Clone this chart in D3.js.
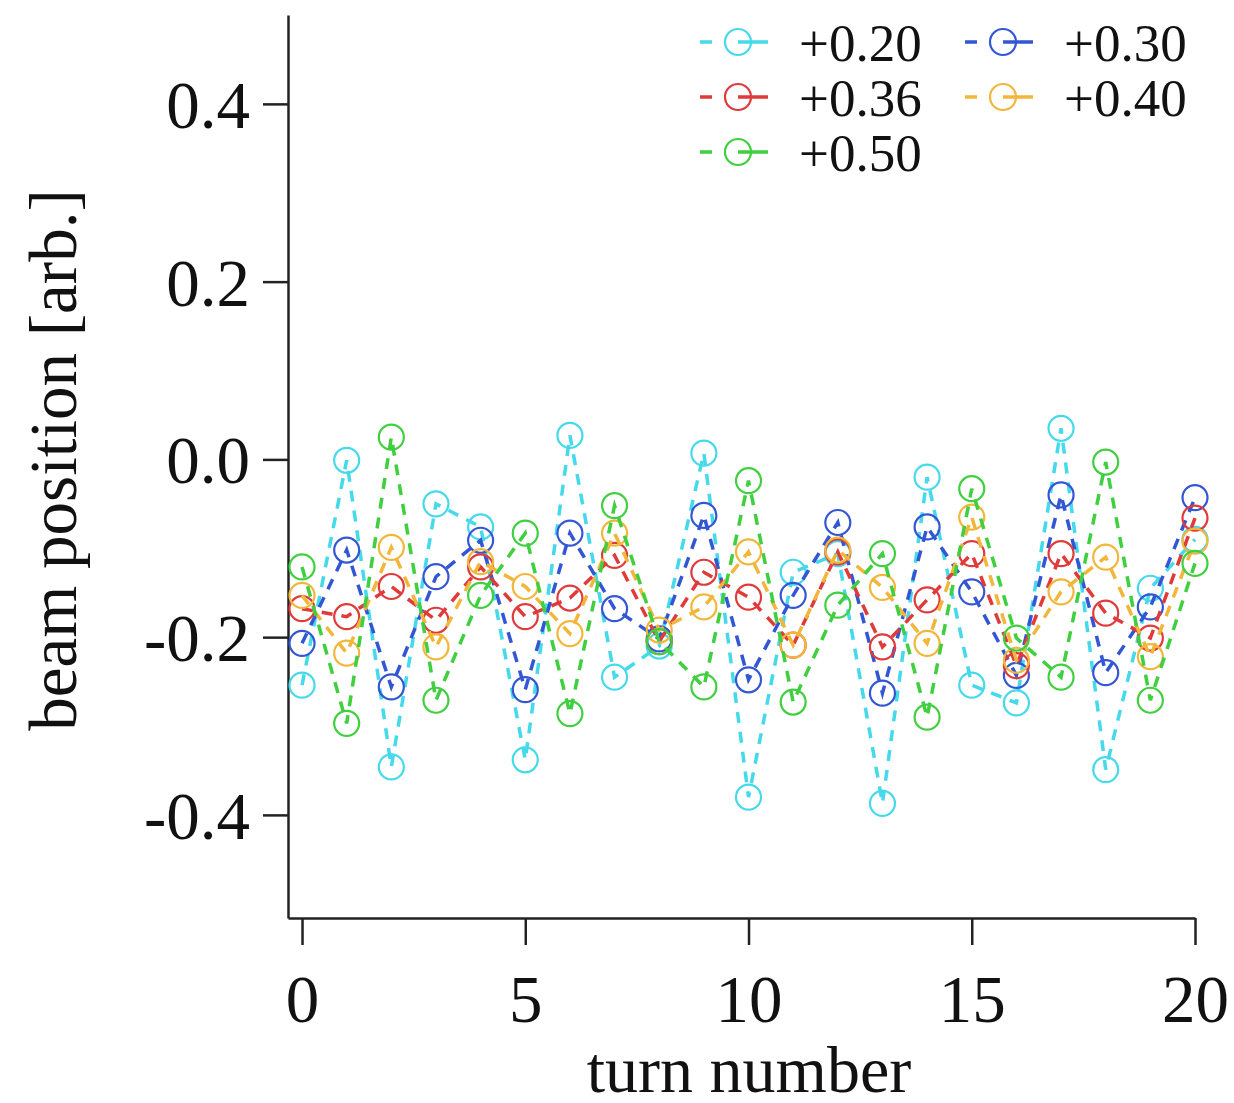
<!DOCTYPE html>
<html>
<head>
<meta charset="utf-8">
<script src="https://cdn.jsdelivr.net/npm/d3@7"></script>
<style>
  html, body { margin: 0; padding: 0; background: #fff; }
  svg { display: block; }
  text { font-family: "Liberation Serif", "Times New Roman", serif; fill: #111; }
</style>
</head>
<body>
<svg id="chart" width="1234" height="1103"></svg>
<script>
// ---- data ----
const turns = d3.range(0, 21);
const seriesNames = ["+0.20", "+0.30", "+0.36", "+0.40", "+0.50"];
const seriesColors = ["#45d9ec", "#3356d4", "#e03a3a", "#f2b63a", "#3fcf3f"];
const s020 = [-0.254, -0.001, -0.346, -0.050, -0.076, -0.338, 0.027, -0.245, -0.210, 0.007, -0.380, -0.127, -0.106, -0.387, -0.020, -0.254, -0.274, 0.035, -0.349, -0.145, -0.090];
const s030 = [-0.207, -0.102, -0.256, -0.132, -0.091, -0.259, -0.083, -0.168, -0.202, -0.063, -0.248, -0.153, -0.071, -0.263, -0.076, -0.149, -0.243, -0.040, -0.240, -0.166, -0.043];
const s036 = [-0.168, -0.177, -0.143, -0.181, -0.121, -0.177, -0.156, -0.108, -0.205, -0.127, -0.155, -0.209, -0.104, -0.211, -0.158, -0.106, -0.232, -0.106, -0.173, -0.201, -0.066];
const s040 = [-0.153, -0.218, -0.099, -0.211, -0.115, -0.143, -0.196, -0.083, -0.192, -0.166, -0.104, -0.209, -0.102, -0.144, -0.207, -0.065, -0.226, -0.149, -0.110, -0.222, -0.092];
const s050 = [-0.121, -0.297, 0.025, -0.271, -0.153, -0.083, -0.286, -0.052, -0.205, -0.256, -0.024, -0.273, -0.164, -0.106, -0.290, -0.033, -0.201, -0.245, -0.003, -0.271, -0.117];
const seriesValues = [s020, s030, s036, s040, s050];
const xTicks = [0, 5, 10, 15, 20];
const yTicks = [-0.4, -0.2, 0.0, 0.2, 0.4];

// ---- chart ----
const svg = d3.select("#chart");
const x = d3.scaleLinear().domain([-0.314, 20]).range([288, 1195]);
const y = d3.scaleLinear().domain([-0.516, 0.5]).range([918, 15]);

const yAxis = d3.axisLeft(y).tickValues(yTicks).tickFormat(d => d.toFixed(1))
  .tickSize(25).tickSizeOuter(0).tickPadding(13);
const xAxis = d3.axisBottom(x).tickValues(xTicks).tickFormat(d => String(d))
  .tickSize(27).tickSizeOuter(0).tickPadding(10);

const gy = svg.append("g").attr("transform", "translate(288,0)").call(yAxis);
const gx = svg.append("g").attr("transform", "translate(0,918)").call(xAxis);
[gx, gy].forEach(g => {
  g.selectAll("path, line").attr("stroke", "#222").attr("stroke-width", 2.5);
  g.selectAll("text").attr("font-size", 67).attr("fill", "#111")
    .style("font-family", "'Liberation Serif', 'Times New Roman', serif");
});
gy.selectAll("text").attr("dy", "0.35em");
gx.selectAll("text").attr("y", 104).attr("dy", 0);

// axis titles
svg.append("text").attr("x", 749).attr("y", 1092).attr("text-anchor", "middle")
  .attr("font-size", 66).text("turn number");
svg.append("text").attr("transform", "translate(76,460) rotate(-90)")
  .attr("text-anchor", "middle").attr("font-size", 67).text("beam position [arb.]");

// series
const line = d3.line().x((d, i) => x(turns[i])).y(d => y(d));
seriesValues.forEach((vals, k) => {
  const g = svg.append("g");
  g.append("path").datum(vals).attr("d", line)
    .attr("fill", "none").attr("stroke", seriesColors[k])
    .attr("stroke-width", 3.5).attr("stroke-dasharray", "11,9");
  g.selectAll("circle").data(vals).join("circle")
    .attr("cx", (d, i) => x(turns[i])).attr("cy", d => y(d)).attr("r", 12.5)
    .attr("fill", "none").attr("stroke", seriesColors[k]).attr("stroke-width", 2.2);
});

// legend
const legPos = [[700, 42], [965, 42], [700, 97], [965, 97], [700, 152]];
seriesNames.forEach((name, k) => {
  const [lx, ly] = legPos[k];
  const g = svg.append("g").attr("transform", `translate(${lx},${ly})`);
  g.append("line").attr("x1", 0).attr("x2", 68).attr("y1", 0).attr("y2", 0)
    .attr("stroke", seriesColors[k]).attr("stroke-width", 3.5)
    .attr("stroke-dasharray", "12,26,30");
  g.append("circle").attr("cx", 38).attr("cy", 0).attr("r", 13)
    .attr("fill", "none").attr("stroke", seriesColors[k]).attr("stroke-width", 2.2);
  g.append("text").attr("x", 99).attr("y", 0).attr("dy", "0.35em")
    .attr("font-size", 53).text(name);
});
</script>
</body>
</html>
